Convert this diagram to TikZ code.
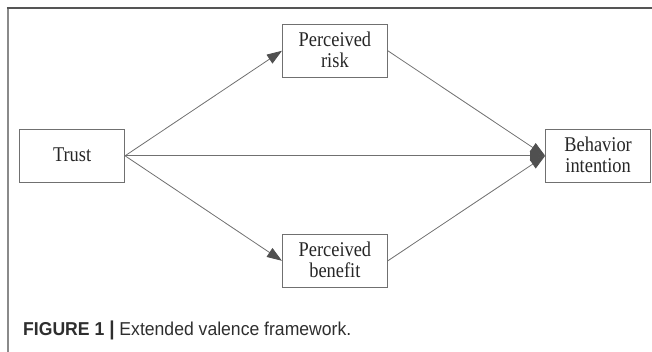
\documentclass[tikz,border=0pt]{standalone}
\usepackage{graphicx}
\usepackage{fontspec}
\setmainfont{Liberation Serif}
\newfontfamily\capfont{Liberation Sans}
\usetikzlibrary{arrows.meta}
\definecolor{linegray}{HTML}{707070}
\definecolor{tipgray}{HTML}{505050}
\definecolor{framegray}{HTML}{8A8A8A}
\definecolor{frametop}{HTML}{555555}
\newcommand{\boxtxt}[1]{\raisebox{-2pt}[\height][\depth]{\scalebox{1}[1.14]{\fontsize{18.4}{18.4}\selectfont\begin{tabular}{@{}c@{}}#1\end{tabular}}}}
\begin{document}
\begin{tikzpicture}[x=1pt,y=-1pt,
  box/.style={draw=linegray,line width=0.9pt,minimum width=105pt,minimum height=53pt,inner sep=0pt,align=center,text=black!85},
  conn/.style={draw=linegray,line width=0.8pt,-{Triangle[length=15pt,width=10.5pt,fill=tipgray,color=tipgray]}}]
\useasboundingbox (0,0) rectangle (652,352);
\draw[framegray,line width=1.8pt] (7.8,360) -- (7.8,8.3);
\draw[frametop,line width=1.6pt] (6.9,8.3) -- (660,8.3);
\node[box] (trust) at (72.1,155.8) {\boxtxt{Trust}};
\node[box] (risk) at (334.9,50.8) {\boxtxt{Perceived\\risk}};
\node[box] (benefit) at (334.9,260.8) {\boxtxt{Perceived\\benefit}};
\node[box] (behav) at (598.1,155.8) {\boxtxt{Behavior\\intention}};
\draw[conn] (trust.east) -- (risk.west);
\draw[conn] (trust.east) -- (benefit.west);
\draw[conn] (trust.east) -- (behav.west);
\draw[conn] (risk.east) -- (behav.west);
\draw[conn] (benefit.east) -- (behav.west);
\node[anchor=base west,inner sep=0pt,text=black!82] (cap) at (23,335.5) {\scalebox{1}[1.06]{\capfont\fontsize{17.6}{20}\selectfont\textbf{FIGURE 1 {\fontsize{19}{20}\selectfont|}} Extended valence framework.}};
\end{tikzpicture}
\end{document}
